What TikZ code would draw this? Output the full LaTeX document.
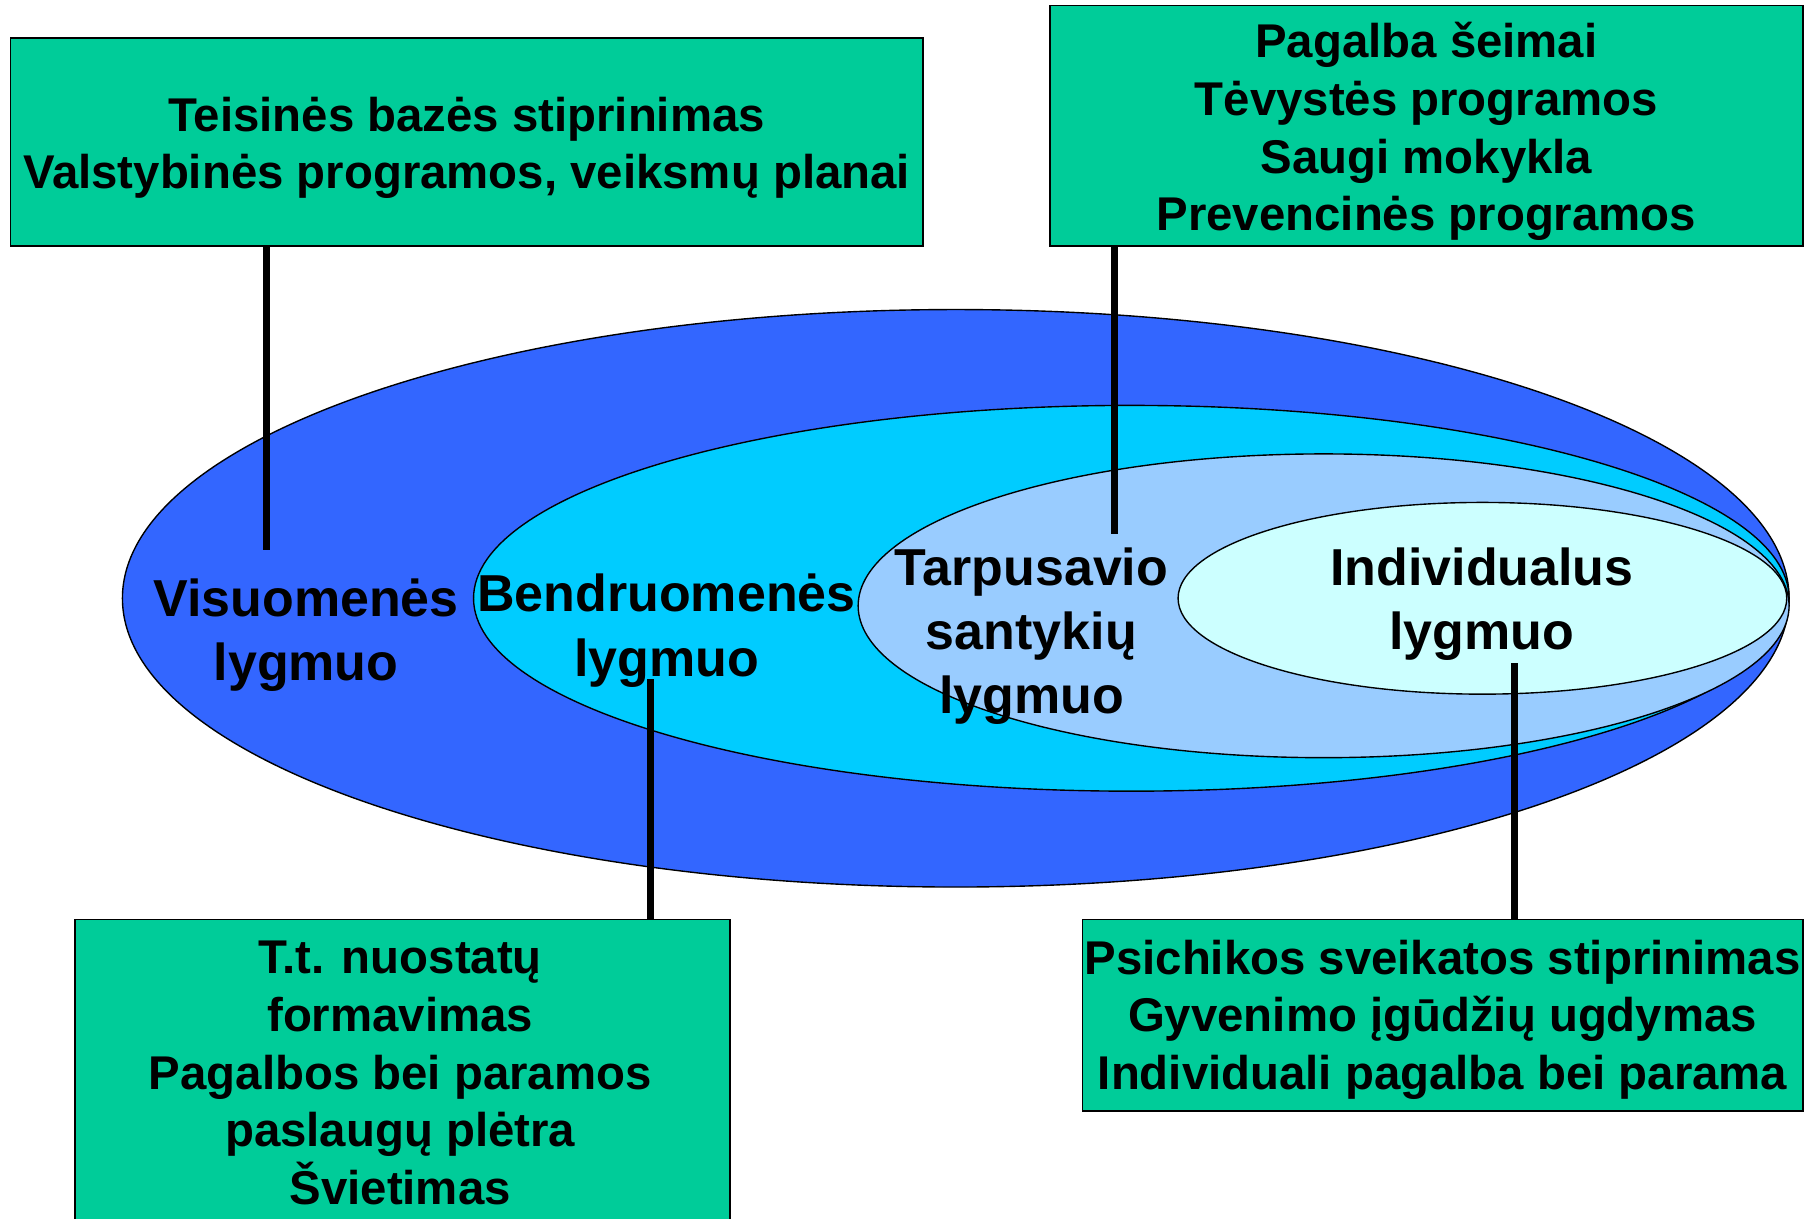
\documentclass[tikz,border=0pt]{standalone}
\usepackage{fontspec}
\setmainfont{Liberation Sans}
\usetikzlibrary{shapes.geometric}
\definecolor{lvlA}{HTML}{3366FF}
\definecolor{lvlB}{HTML}{00CCFF}
\definecolor{lvlC}{HTML}{99CCFF}
\definecolor{lvlD}{HTML}{CCFFFF}
\definecolor{boxgreen}{HTML}{00CC99}
\tikzset{
  lvl/.style={ellipse, draw=black, line width=0.6pt, inner sep=0pt},
  infobox/.style={rectangle, draw=black, line width=0.6pt, fill=boxgreen, inner sep=0pt},
  boxtext/.style={align=center, inner sep=0pt, font=\bfseries\fontsize{20.5}{25}\selectfont},
  lvltext/.style={align=center, inner sep=0pt, font=\bfseries\fontsize{22.5}{28}\selectfont},
  conn/.style={line width=3pt, draw=black},
}
\begin{document}
\begin{tikzpicture}[x=0.5pt,y=-0.5pt]
\useasboundingbox (0,0) rectangle (1568,1055);
% ellipses
\node[lvl, fill=lvlA, minimum width=721.5pt, minimum height=250pt] (LA) at (827.5,518) {};
\node[lvl, fill=lvlB, minimum width=569.5pt, minimum height=167pt] (LB) at (979.5,518) {};
\node[lvl, fill=lvlC, minimum width=403pt, minimum height=131.5pt] (LC) at (1146,524.5) {};
\node[lvl, fill=lvlD, minimum width=263.5pt, minimum height=83pt] (LD) at (1283.5,518) {};
% boxes
\node[infobox, minimum width=395pt, minimum height=90pt] (B1) at (404,123) {};
\node[infobox, minimum width=326pt, minimum height=104pt] (B2) at (1235,109) {};
\node[infobox, minimum width=283.5pt, minimum height=133pt] (B3) at (348.5,929) {};
\node[infobox, minimum width=312pt, minimum height=83pt] (B4) at (1249,879) {};
\node[boxtext] (T1) at ([yshift=-2.5pt]B1.center)
  {Teisinės bazės stiprinimas\\Valstybinės programos, veiksmų planai};
\node[boxtext] (T2) at ([yshift=-2.5pt]B2.center)
  {Pagalba šeimai\\Tėvystės programos\\Saugi mokykla\\Prevencinės programos};
\node[boxtext] (T3) at ([xshift=-1pt]B3.center)
  {T.t. nuostatų\\formavimas\\Pagalbos bei paramos\\paslaugų plėtra\\Švietimas};
\node[boxtext] (T4) at ([yshift=-2pt]B4.center)
  {Psichikos sveikatos stiprinimas\\Gyvenimo įgūdžių ugdymas\\Individuali pagalba bei parama};
% connector ends
\coordinate (E1) at (231,476);
\coordinate (E2) at (965,462);
\coordinate (E3) at (563,588);
\coordinate (E4) at (1311,574);
\draw[conn] (E1 |- B1.south) -- (E1);
\draw[conn] (E2 |- B2.south) -- (E2);
\draw[conn] (E3 |- B3.north) -- (E3);
\draw[conn] (E4 |- B4.north) -- (E4);
% level labels
\node[lvltext] (TA) at (265,550) {Visuomenės\\lygmuo};
\node[lvltext] (TB) at (577,546) {Bendruomenės\\lygmuo};
\node[lvltext, font=\bfseries\fontsize{22.5}{27.7}\selectfont] (TC) at (893,551) {Tarpusavio\\santykių\\lygmuo};
\node[lvltext] (TD) at (1283,523) {Individualus\\lygmuo};
\end{tikzpicture}
\end{document}
